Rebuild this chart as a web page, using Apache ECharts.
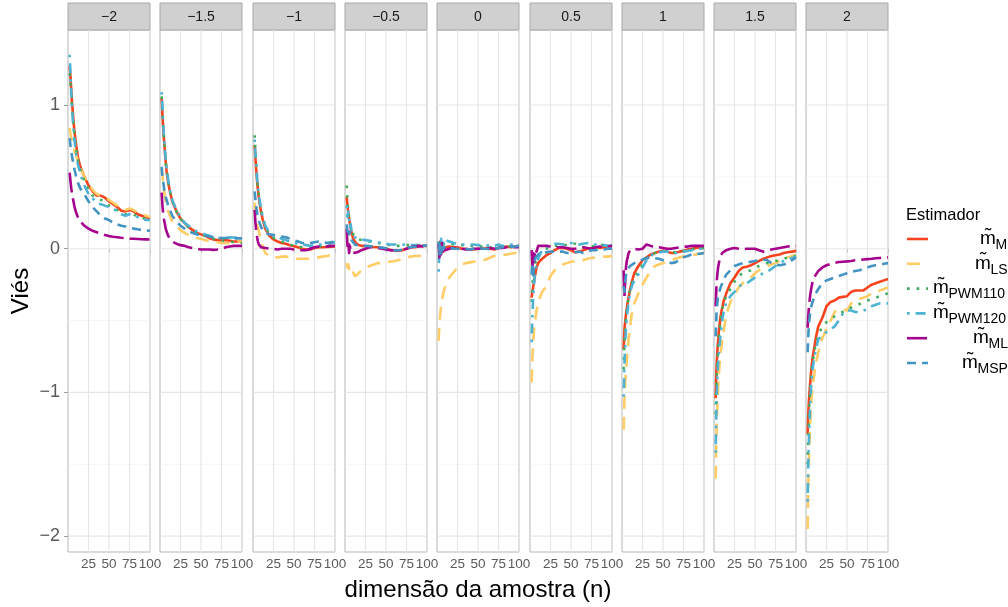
<!DOCTYPE html>
<html>
<head>
<meta charset="utf-8">
<script src="https://cdn.jsdelivr.net/npm/echarts@6/dist/echarts.min.js"></script>
<style>
  html, body { margin: 0; padding: 0; background: #ffffff; }
  #chart { width: 1008px; height: 607px; }
</style>
</head>
<body>
<div id="chart"></div>
<script>
// Sample sizes (x) shared by every panel
const nValues = [2, 3, 4, 5, 6, 7, 8, 10, 12, 15, 20, 25, 30, 35, 40, 45, 50, 55, 60, 65, 70, 75, 80, 85, 90, 95, 100];

// Panel (facet) labels
const facetLabels = ['\u22122', '\u22121.5', '\u22121', '\u22120.5', '0', '0.5', '1', '1.5', '2'];

// Bias per estimator: one row per panel, one value per sample size
const m_M = [
  [1.27,1.20,1.10,1.01,0.94,0.87,0.81,0.72,0.64,0.57,0.50,0.44,0.40,0.37,0.37,0.355,0.33,0.31,0.29,0.265,0.26,0.27,0.26,0.24,0.23,0.22,0.21],
  [1.05,0.93,0.83,0.75,0.67,0.60,0.54,0.46,0.40,0.33,0.26,0.21,0.18,0.15,0.13,0.11,0.10,0.09,0.075,0.065,0.06,0.06,0.06,0.055,0.05,0.05,0.048],
  [0.72,0.63,0.54,0.47,0.41,0.36,0.32,0.25,0.20,0.14,0.09,0.065,0.05,0.04,0.035,0.025,0.018,0.01,0.0,-0.005,-0.005,0.005,0.01,0.01,0.012,0.015,0.016],
  [0.36,0.30,0.25,0.21,0.17,0.14,0.11,0.07,0.05,0.03,0.02,0.018,0.015,0.012,0.01,0.005,0.0,-0.008,-0.012,-0.016,-0.01,0.0,0.01,0.01,0.015,0.02,0.02],
  [0.04,-0.03,0.05,-0.02,0.03,0.0,-0.02,0.01,0.02,0.015,0.01,0.01,0.0,0.0,-0.005,-0.005,0.0,0.0,0.005,0.0,-0.005,0.005,0.01,0.015,0.01,0.015,0.02],
  [-0.34,-0.30,-0.26,-0.23,-0.19,-0.16,-0.13,-0.10,-0.085,-0.07,-0.045,-0.03,-0.01,0.005,0.005,0.0,-0.01,-0.025,-0.02,-0.01,0.0,0.005,0.01,0.005,0.01,0.015,0.02],
  [-0.70,-0.56,-0.50,-0.45,-0.41,-0.37,-0.34,-0.28,-0.23,-0.17,-0.12,-0.08,-0.06,-0.04,-0.03,-0.02,-0.015,-0.02,-0.03,-0.03,-0.02,-0.015,-0.005,0.0,0.005,0.01,0.015],
  [-1.04,-0.84,-0.72,-0.64,-0.57,-0.52,-0.47,-0.41,-0.36,-0.31,-0.24,-0.20,-0.155,-0.13,-0.125,-0.115,-0.10,-0.085,-0.07,-0.06,-0.05,-0.045,-0.04,-0.03,-0.025,-0.02,-0.015],
  [-1.29,-1.12,-1.02,-0.94,-0.87,-0.81,-0.76,-0.69,-0.62,-0.54,-0.48,-0.40,-0.37,-0.36,-0.34,-0.335,-0.33,-0.30,-0.29,-0.29,-0.29,-0.27,-0.25,-0.24,-0.23,-0.22,-0.21]
];
const m_LS = [
  [0.84,0.80,0.77,0.74,0.72,0.70,0.68,0.65,0.61,0.56,0.50,0.45,0.41,0.38,0.37,0.36,0.34,0.32,0.30,0.28,0.27,0.28,0.27,0.25,0.24,0.23,0.22],
  [0.56,0.51,0.45,0.40,0.36,0.33,0.30,0.26,0.23,0.19,0.16,0.13,0.11,0.095,0.085,0.075,0.07,0.06,0.055,0.05,0.045,0.04,0.04,0.04,0.045,0.05,0.05],
  [0.32,0.26,0.21,0.17,0.14,0.12,0.10,0.05,0.01,-0.03,-0.05,-0.06,-0.06,-0.055,-0.055,-0.06,-0.065,-0.07,-0.07,-0.07,-0.07,-0.065,-0.06,-0.055,-0.05,-0.045,-0.04],
  [-0.10,-0.13,-0.11,-0.12,-0.16,-0.15,-0.14,-0.15,-0.19,-0.18,-0.15,-0.13,-0.12,-0.11,-0.10,-0.10,-0.095,-0.09,-0.085,-0.08,-0.07,-0.06,-0.055,-0.05,-0.05,-0.05,-0.05],
  [-0.64,-0.52,-0.45,-0.40,-0.36,-0.33,-0.30,-0.26,-0.23,-0.20,-0.165,-0.13,-0.11,-0.10,-0.095,-0.09,-0.085,-0.08,-0.075,-0.06,-0.05,-0.05,-0.045,-0.04,-0.035,-0.03,-0.03],
  [-0.93,-0.75,-0.63,-0.56,-0.51,-0.47,-0.43,-0.38,-0.34,-0.30,-0.26,-0.19,-0.15,-0.13,-0.11,-0.10,-0.09,-0.088,-0.085,-0.08,-0.07,-0.065,-0.06,-0.058,-0.055,-0.055,-0.05],
  [-1.26,-1.05,-0.93,-0.84,-0.77,-0.70,-0.63,-0.54,-0.45,-0.38,-0.31,-0.25,-0.20,-0.15,-0.12,-0.11,-0.10,-0.09,-0.08,-0.07,-0.06,-0.055,-0.05,-0.045,-0.04,-0.035,-0.03],
  [-1.60,-1.30,-1.10,-0.97,-0.87,-0.79,-0.73,-0.64,-0.56,-0.46,-0.37,-0.32,-0.27,-0.24,-0.22,-0.20,-0.17,-0.15,-0.13,-0.12,-0.11,-0.10,-0.085,-0.07,-0.06,-0.05,-0.045],
  [-1.95,-1.60,-1.38,-1.22,-1.10,-1.02,-0.96,-0.88,-0.80,-0.72,-0.62,-0.56,-0.50,-0.44,-0.42,-0.42,-0.43,-0.38,-0.36,-0.35,-0.34,-0.33,-0.31,-0.30,-0.29,-0.28,-0.27]
];
const m_PWM110 = [
  [1.22,1.15,1.06,0.98,0.91,0.85,0.79,0.70,0.62,0.55,0.47,0.41,0.37,0.35,0.34,0.33,0.30,0.29,0.27,0.25,0.24,0.24,0.24,0.22,0.21,0.21,0.20],
  [1.06,0.95,0.84,0.76,0.68,0.61,0.55,0.47,0.40,0.33,0.26,0.21,0.17,0.15,0.13,0.11,0.10,0.09,0.08,0.07,0.065,0.06,0.055,0.05,0.045,0.045,0.04],
  [0.79,0.68,0.58,0.50,0.43,0.38,0.33,0.26,0.21,0.15,0.10,0.075,0.06,0.05,0.04,0.03,0.02,0.015,0.01,0.005,0.005,0.01,0.015,0.02,0.02,0.02,0.02],
  [0.44,0.33,0.27,0.22,0.19,0.16,0.13,0.10,0.08,0.07,0.06,0.055,0.05,0.045,0.04,0.035,0.03,0.025,0.02,0.02,0.02,0.025,0.025,0.025,0.025,0.02,0.02],
  [0.05,0.02,-0.03,0.04,0.01,0.03,0.02,0.04,0.03,0.04,0.03,0.03,0.025,0.025,0.02,0.02,0.02,0.015,0.02,0.01,0.01,0.01,0.015,0.02,0.015,0.02,0.02],
  [-0.37,-0.26,-0.18,-0.14,-0.11,-0.09,-0.07,-0.05,-0.03,-0.01,0.0,0.01,0.02,0.025,0.02,0.03,0.04,0.035,0.02,0.01,0.01,0.015,0.02,0.02,0.03,0.02,0.02],
  [-0.84,-0.64,-0.55,-0.47,-0.42,-0.38,-0.34,-0.28,-0.24,-0.20,-0.16,-0.11,-0.07,-0.04,-0.03,-0.025,-0.02,-0.02,-0.02,-0.025,-0.02,-0.015,-0.01,-0.005,0.0,0.0,0.005],
  [-1.15,-0.95,-0.80,-0.70,-0.62,-0.56,-0.50,-0.42,-0.37,-0.33,-0.28,-0.23,-0.19,-0.17,-0.16,-0.15,-0.13,-0.12,-0.11,-0.10,-0.09,-0.085,-0.08,-0.07,-0.06,-0.055,-0.05],
  [-1.50,-1.25,-1.10,-0.98,-0.90,-0.84,-0.79,-0.72,-0.66,-0.60,-0.54,-0.51,-0.49,-0.47,-0.45,-0.44,-0.43,-0.41,-0.40,-0.385,-0.37,-0.36,-0.35,-0.34,-0.33,-0.32,-0.31]
];
const m_PWM120 = [
  [1.35,1.22,1.08,0.97,0.88,0.81,0.75,0.66,0.59,0.52,0.44,0.38,0.35,0.32,0.31,0.30,0.29,0.28,0.26,0.24,0.23,0.24,0.23,0.22,0.21,0.20,0.20],
  [1.09,0.98,0.86,0.77,0.69,0.62,0.56,0.48,0.41,0.34,0.27,0.22,0.18,0.16,0.14,0.12,0.11,0.10,0.09,0.08,0.075,0.075,0.075,0.08,0.078,0.078,0.078],
  [0.76,0.66,0.57,0.49,0.43,0.38,0.34,0.27,0.22,0.16,0.11,0.09,0.08,0.07,0.06,0.05,0.04,0.035,0.03,0.025,0.02,0.025,0.03,0.03,0.035,0.04,0.045],
  [0.30,0.22,0.26,0.20,0.15,0.17,0.12,0.11,0.08,0.075,0.065,0.06,0.055,0.05,0.045,0.04,0.035,0.03,0.03,0.03,0.03,0.025,0.025,0.025,0.02,0.025,0.025],
  [-0.16,0.05,-0.04,0.07,0.02,0.06,0.03,0.06,0.05,0.05,0.04,0.035,0.03,0.03,0.03,0.03,0.025,0.02,0.02,0.025,0.02,0.03,0.02,0.02,0.03,0.025,0.02],
  [-0.65,-0.45,-0.32,-0.24,-0.18,-0.14,-0.11,-0.07,-0.04,-0.01,0.01,0.025,0.035,0.035,0.03,0.035,0.04,0.04,0.03,0.035,0.04,0.03,0.03,0.025,0.025,0.02,0.02],
  [-1.03,-0.80,-0.65,-0.54,-0.47,-0.42,-0.37,-0.30,-0.26,-0.22,-0.18,-0.13,-0.08,-0.05,-0.03,-0.025,-0.02,-0.02,-0.025,-0.03,-0.025,-0.02,-0.015,-0.01,-0.005,0.0,0.0],
  [-1.42,-1.10,-0.90,-0.80,-0.72,-0.66,-0.60,-0.50,-0.43,-0.37,-0.33,-0.30,-0.26,-0.25,-0.24,-0.22,-0.20,-0.185,-0.17,-0.16,-0.14,-0.12,-0.10,-0.085,-0.075,-0.065,-0.055],
  [-1.76,-1.45,-1.25,-1.10,-0.98,-0.90,-0.84,-0.76,-0.70,-0.63,-0.60,-0.58,-0.56,-0.54,-0.50,-0.45,-0.43,-0.43,-0.44,-0.44,-0.43,-0.42,-0.40,-0.39,-0.38,-0.38,-0.38]
];
const m_ML = [
  [0.53,0.47,0.42,0.38,0.35,0.32,0.29,0.25,0.22,0.19,0.16,0.14,0.125,0.115,0.105,0.095,0.088,0.083,0.08,0.076,0.073,0.07,0.07,0.068,0.066,0.065,0.064],
  [0.39,0.30,0.24,0.20,0.17,0.14,0.12,0.09,0.07,0.05,0.035,0.025,0.02,0.01,0.005,0.0,-0.005,-0.005,-0.005,-0.008,-0.005,0.0,0.01,0.015,0.02,0.02,0.02],
  [0.27,0.18,0.12,0.08,0.05,0.03,0.02,0.01,0.005,0.005,0.0,0.0,-0.005,0.0,0.0,0.0,-0.005,-0.01,-0.01,-0.01,0.0,0.01,0.015,0.01,0.015,0.02,0.02],
  [0.14,0.02,0.06,-0.03,0.02,-0.02,-0.01,-0.03,-0.02,-0.025,-0.01,0.0,0.01,0.01,0.005,0.0,-0.005,-0.01,-0.01,-0.01,-0.005,0.0,0.01,0.015,0.02,0.015,0.02],
  [0.03,-0.06,0.02,-0.04,0.04,-0.02,0.01,-0.01,0.0,0.0,0.005,0.0,0.0,-0.005,-0.005,0.0,0.0,0.0,0.0,0.005,0.0,0.005,0.005,0.01,0.01,0.01,0.01],
  [-0.01,-0.12,-0.03,-0.09,-0.02,0.0,-0.02,0.02,0.01,0.02,0.02,0.015,0.01,0.01,0.01,0.005,0.0,0.0,0.005,0.01,0.005,0.0,0.01,0.015,0.01,0.015,0.02],
  [-0.15,-0.33,-0.20,-0.12,-0.08,-0.06,-0.03,-0.01,-0.005,0.0,-0.005,0.0,0.03,0.02,0.01,0.01,0.005,0.0,0.0,0.005,0.01,0.015,0.015,0.02,0.02,0.02,0.02],
  [-0.40,-0.26,-0.18,-0.13,-0.10,-0.07,-0.05,-0.03,-0.02,-0.01,0.0,0.005,0.0,-0.005,0.0,0.0,0.0,-0.01,-0.02,-0.015,-0.005,0.0,0.005,0.01,0.015,0.02,0.02],
  [-0.55,-0.45,-0.38,-0.33,-0.29,-0.26,-0.23,-0.20,-0.18,-0.155,-0.13,-0.115,-0.105,-0.098,-0.092,-0.09,-0.088,-0.085,-0.08,-0.078,-0.075,-0.072,-0.07,-0.066,-0.064,-0.062,-0.06]
];
const m_MSP = [
  [0.77,0.72,0.68,0.64,0.61,0.58,0.55,0.50,0.46,0.42,0.38,0.33,0.29,0.26,0.23,0.21,0.20,0.18,0.17,0.16,0.155,0.145,0.14,0.135,0.13,0.127,0.125],
  [0.57,0.50,0.46,0.42,0.39,0.36,0.34,0.30,0.27,0.23,0.19,0.16,0.14,0.12,0.11,0.10,0.095,0.09,0.085,0.08,0.075,0.075,0.075,0.075,0.072,0.072,0.072],
  [0.40,0.34,0.29,0.25,0.22,0.20,0.18,0.15,0.13,0.11,0.10,0.095,0.09,0.085,0.08,0.07,0.06,0.05,0.04,0.035,0.04,0.045,0.05,0.045,0.04,0.045,0.05],
  [0.17,0.12,0.15,0.10,0.12,0.08,0.06,0.05,0.03,0.025,0.02,0.02,0.018,0.015,0.012,0.008,0.004,-0.004,-0.01,-0.012,-0.006,0.004,0.012,0.014,0.018,0.022,0.022],
  [0.05,-0.05,0.04,-0.03,0.02,-0.01,0.0,0.02,0.01,0.01,0.0,0.0,-0.005,0.0,-0.005,0.0,0.005,0.0,0.0,-0.005,0.0,0.005,0.01,0.01,0.015,0.015,0.02],
  [-0.18,-0.10,-0.21,-0.12,-0.08,-0.06,-0.05,-0.04,-0.035,-0.03,-0.025,-0.02,-0.02,-0.02,-0.02,-0.03,-0.03,-0.025,-0.02,-0.03,-0.02,-0.01,-0.01,0.0,-0.005,0.0,0.0],
  [-0.26,-0.30,-0.22,-0.18,-0.16,-0.14,-0.13,-0.12,-0.11,-0.10,-0.09,-0.075,-0.065,-0.06,-0.065,-0.07,-0.08,-0.09,-0.10,-0.095,-0.08,-0.06,-0.05,-0.04,-0.035,-0.035,-0.03],
  [-0.61,-0.46,-0.38,-0.33,-0.31,-0.29,-0.27,-0.24,-0.21,-0.18,-0.15,-0.12,-0.11,-0.10,-0.095,-0.09,-0.085,-0.08,-0.075,-0.08,-0.10,-0.11,-0.115,-0.11,-0.10,-0.08,-0.06],
  [-0.72,-0.58,-0.50,-0.45,-0.41,-0.39,-0.37,-0.34,-0.31,-0.28,-0.24,-0.22,-0.21,-0.20,-0.19,-0.18,-0.17,-0.16,-0.155,-0.15,-0.14,-0.13,-0.12,-0.115,-0.11,-0.105,-0.10]
];

// Axis breaks
const yBreaks = [-2, -1, 0, 1];
const yMinorBreaks = [-1.5, -0.5, 0.5];
const xBreaks = [25, 50, 75, 100];

// Estimators: subscript label, values, colour and dash pattern
const estimators = [
  { sub: 'M',      values: m_M,      color: '#F7431E', dash: 'solid',           labelX: 980 },
  { sub: 'LS',     values: m_LS,     color: '#FFCC66', dash: [13, 8],           labelX: 975 },
  { sub: 'PWM110', values: m_PWM110, color: '#41AB5D', dash: [2.6, 7],          labelX: 933 },
  { sub: 'PWM120', values: m_PWM120, color: '#4EB3D3', dash: [2.6, 6, 10, 6],   labelX: 933 },
  { sub: 'ML',     values: m_ML,     color: '#A6038D', dash: [20, 6],           labelX: 973 },
  { sub: 'MSP',    values: m_MSP,    color: '#4393C3', dash: [9, 6],            labelX: 962 }
];

const FONT = '"Liberation Sans", Arial, Helvetica, sans-serif';
const panelLefts = [68, 160, 253, 345, 437, 530, 622, 714, 806];
const panelW = 82, panelTop = 30, panelH = 522;
const yMin = -2.11, yMax = 1.522;
const LINE_W = 2.6;
const minus = v => String(v).replace('-', '\u2212');

const grids = [], xAxes = [], yAxes = [], series = [], graphics = [];

panelLefts.forEach((left, i) => {
  grids.push({
    left: left, top: panelTop, width: panelW, height: panelH,
    show: true, backgroundColor: '#ffffff', borderColor: '#B5B5B5', borderWidth: 1
  });
  xAxes.push({
    gridIndex: i, type: 'value', min: 0, max: 100,
    axisLine: { show: false },
    axisTick: { show: true, length: 4, customValues: xBreaks, lineStyle: { color: '#9A9A9A', width: 1 } },
    axisLabel: {
      customValues: xBreaks, color: '#5A5A5A', fontSize: 13.5, fontFamily: FONT, margin: 5,
      formatter: v => (xBreaks.includes(v) ? String(v) : '')
    },
    splitLine: { show: false }
  });
  yAxes.push({
    gridIndex: i, type: 'value', min: yMin, max: yMax,
    axisLine: { show: false },
    axisTick: { show: i === 0, length: 4, customValues: yBreaks, lineStyle: { color: '#9A9A9A', width: 1 } },
    axisLabel: {
      show: i === 0, customValues: yBreaks, color: '#5A5A5A', fontSize: 18, fontFamily: FONT, margin: 8,
      formatter: v => (yBreaks.includes(v) ? minus(v) : '')
    },
    splitLine: { show: false }
  });

  // panel grid lines, placed through the panel's own scales
  series.push({
    type: 'custom', xAxisIndex: i, yAxisIndex: i, z: 1, silent: true, animation: false,
    data: [
      ...yBreaks.map(v => [v, 0]),
      ...yMinorBreaks.map(v => [v, 1]),
      ...xBreaks.map(v => [v, 2])
    ],
    encode: { x: 0, y: 1 },
    renderItem: (params, api) => {
      const v = api.value(0), kind = api.value(1);
      const cs = params.coordSys;
      if (kind === 2) {
        const x = api.coord([v, 0])[0];
        return { type: 'line', shape: { x1: x, y1: cs.y, x2: x, y2: cs.y + cs.height },
                 style: { stroke: '#E6E6E6', lineWidth: 1.2 } };
      }
      const y = api.coord([50, v])[1];
      return { type: 'line', shape: { x1: cs.x, y1: y, x2: cs.x + cs.width, y2: y },
               style: { stroke: kind === 0 ? '#E6E6E6' : '#F2F2F2', lineWidth: kind === 0 ? 1.2 : 0.7 } };
    }
  });

  estimators.forEach(est => {
    series.push({
      type: 'line', name: est.sub, xAxisIndex: i, yAxisIndex: i, z: 2,
      data: nValues.map((n, k) => [n, est.values[i][k]]),
      showSymbol: false, symbol: 'none', silent: true, animation: false,
      lineStyle: { color: est.color, width: LINE_W, type: est.dash, cap: 'butt', join: 'round' }
    });
  });

  // facet strip
  graphics.push({
    type: 'rect', shape: { x: left, y: 3, width: panelW, height: 27 },
    style: { fill: '#D0D0D0', stroke: '#A8A8A8', lineWidth: 1 }, silent: true
  });
  graphics.push({
    type: 'text', x: left + panelW / 2, y: 17, silent: true,
    style: { text: facetLabels[i], fontSize: 14, fontFamily: FONT, fill: '#1A1A1A',
             align: 'center', verticalAlign: 'middle', textAlign: 'center', textVerticalAlign: 'middle' }
  });
});

// axis titles
graphics.push({
  type: 'text', x: 21, y: 291, rotation: Math.PI / 2, silent: true,
  style: { text: 'Viés', fontSize: 24, fontFamily: FONT, fill: '#000000',
           align: 'center', verticalAlign: 'middle', textAlign: 'center', textVerticalAlign: 'middle' }
});
graphics.push({
  type: 'text', x: 478, y: 590, silent: true,
  style: { text: 'dimensão da amostra (n)', fontSize: 24, fontFamily: FONT, fill: '#000000',
           align: 'center', verticalAlign: 'middle', textAlign: 'center', textVerticalAlign: 'middle' }
});

// legend
graphics.push({
  type: 'text', x: 906, y: 215, silent: true,
  style: { text: 'Estimador', fontSize: 16.5, fontFamily: FONT, fill: '#000000',
           align: 'left', verticalAlign: 'middle', textAlign: 'left', textVerticalAlign: 'middle' }
});
estimators.forEach((est, k) => {
  const yk = 239 + k * 24.8;
  graphics.push({
    type: 'line', silent: true,
    shape: { x1: 907, y1: yk, x2: 928, y2: yk },
    style: { stroke: est.color, lineWidth: LINE_W, lineDash: est.dash === 'solid' ? null : est.dash, lineCap: 'butt' }
  });
  graphics.push({
    type: 'text', x: est.labelX, y: yk - 0.5, silent: true,
    style: { text: 'm\u0303', fontSize: 19, fontFamily: FONT, fill: '#000000',
             align: 'left', verticalAlign: 'middle', textAlign: 'left', textVerticalAlign: 'middle' }
  });
  graphics.push({
    type: 'text', x: est.labelX + 15.5, y: yk + 6, silent: true,
    style: { text: est.sub, fontSize: 14, fontFamily: FONT, fill: '#000000',
             align: 'left', verticalAlign: 'middle', textAlign: 'left', textVerticalAlign: 'middle' }
  });
});

const chart = echarts.init(document.getElementById('chart'), null, { renderer: 'canvas' });
chart.setOption({
  backgroundColor: '#ffffff',
  animation: false,
  grid: grids,
  xAxis: xAxes,
  yAxis: yAxes,
  series: series,
  graphic: { elements: graphics }
});
</script>
</body>
</html>
